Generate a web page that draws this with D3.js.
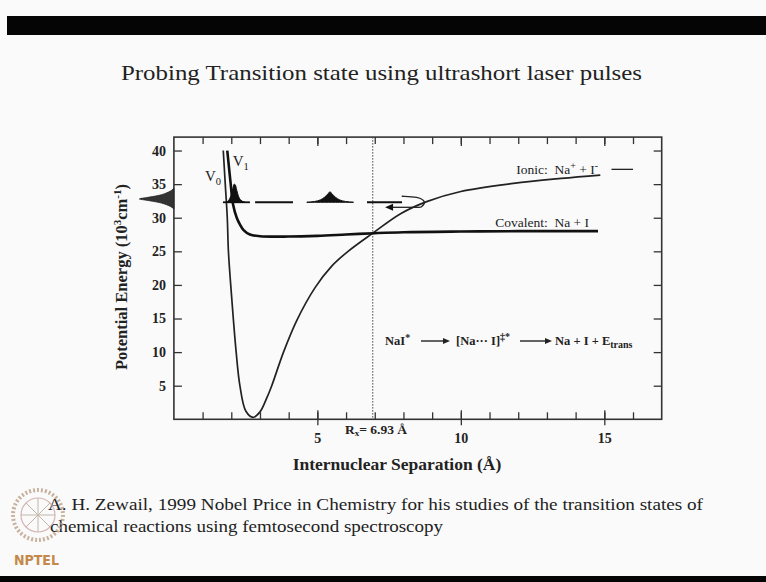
<!DOCTYPE html>
<html>
<head>
<meta charset="utf-8">
<title>Probing Transition state</title>
<script src="https://cdn.jsdelivr.net/npm/d3@7/dist/d3.min.js"></script>
<style>
  body { margin: 0; background: #fafafa; }
  svg { display: block; }
  text { font-family: "Liberation Serif", "Times New Roman", serif; fill: #222; }
  .tick line { stroke: #333; stroke-width: 1.3; }
  .tick text { font-size: 14px; font-weight: bold; font-family: "Liberation Serif", serif; fill: #222; }
</style>
</head>
<body>
<svg width="766" height="582"></svg>
<script>
// ionic ground state V0 (deep well), R in Å, E in 10^3 cm-1
const ionicR = [1.72, 1.79, 1.86, 1.90, 1.98, 2.07, 2.17, 2.30, 2.51, 2.76, 3.00, 3.23, 3.41, 3.82, 4.28, 4.92, 5.50, 6.07, 6.93, 7.90, 8.81, 10.0, 11.83, 13.5, 14.86];
const ionicE = [40, 35, 30, 25, 20, 15, 10, 5, 1.2, 0.3, 1.1, 3.1, 5, 10, 14.7, 19.6, 22.8, 25.0, 27.7, 30.6, 32.4, 33.9, 35.1, 35.85, 36.35];

// covalent excited state V1
const covR = [1.86, 1.98, 2.06, 2.19, 2.30, 2.42, 2.65, 3.0, 4.0, 5.0, 6.0, 7.0, 8.0, 10.0, 12.0, 14.78];
const covE = [40, 35, 32, 30, 29, 28.2, 27.5, 27.25, 27.2, 27.3, 27.5, 27.7, 27.85, 27.95, 28.0, 28.0];

const xMinor = d3.range(1, 17);
const xMajor = [5, 10, 15];
const yTicks = [5, 10, 15, 20, 25, 30, 35, 40];
const Rx = 6.93;

// probe (dashed) level and its segments
const probeE = 32.3;
const probeSegs = [[1.71, 2.65], [2.83, 4.15], [6.73, 7.95]];

// wave packets: [R, height above probe level]
const packet1R = [1.82, 1.92, 1.99, 2.05, 2.10, 2.14, 2.19, 2.26, 2.34, 2.48];
const packet1H = [0, 0.35, 1.0, 2.0, 2.7, 2.6, 1.8, 0.8, 0.3, 0];
const packet2R = [4.63, 4.9, 5.1, 5.25, 5.38, 5.44, 5.50, 5.63, 5.78, 5.98, 6.26];
const packet2H = [0, 0.12, 0.35, 0.75, 1.3, 1.57, 1.3, 0.75, 0.35, 0.12, 0];

// pump spectrum on the energy axis: [E, amplitude in Å units]
const pumpE = [31.3, 31.8, 32.3, 32.6, 32.8, 33.0, 33.3, 33.8, 34.4];
const pumpA = [0, 0.18, 0.55, 0.95, 1.2, 0.95, 0.55, 0.2, 0];

// turning-point hook and return arrow
const hookR = [7.94, 8.5, 8.82, 8.6];
const hookE = [33.2, 33.15, 32.3, 31.55];
const arrowR = [8.6, 7.36];

const svg = d3.select("svg");
const W = 766, H = 582;

svg.append("rect").attr("width", W).attr("height", H).attr("fill", "#fafafa");
svg.append("rect").attr("x", 7).attr("y", 16).attr("width", W - 7).attr("height", 19).attr("fill", "#050505");
svg.append("rect").attr("x", 0).attr("y", 576).attr("width", W).attr("height", 6).attr("fill", "#050505");

svg.append("text").attr("x", 121).attr("y", 80)
  .attr("font-size", 22).attr("textLength", 521).attr("lengthAdjust", "spacingAndGlyphs")
  .text("Probing Transition state using ultrashort laser pulses");

const pLeft = 173.9, pRight = 661.7, pTop = 137.1, pBottom = 419.3;
const x = d3.scaleLinear().domain([0, 17]).range([pLeft, pRight]);
const y = d3.scaleLinear().domain([0, 42]).range([pBottom, pTop]);

const g = svg.append("g");

// frame
g.append("rect").attr("x", pLeft).attr("y", pTop).attr("width", pRight - pLeft).attr("height", pBottom - pTop)
  .attr("fill", "none").attr("stroke", "#333").attr("stroke-width", 1.6);

function bare(sel) { sel.select(".domain").remove(); }

// bottom axis
g.append("g").attr("transform", `translate(0,${pBottom})`)
  .call(d3.axisTop(x).tickValues(xMinor).tickSize(7).tickFormat("")).call(bare);
g.append("g").attr("transform", `translate(0,${pBottom})`)
  .call(d3.axisTop(x).tickValues(xMajor).tickSize(9).tickFormat("")).call(bare);
g.append("g").attr("transform", `translate(0,${pBottom})`)
  .call(d3.axisBottom(x).tickValues(xMajor).tickSize(6).tickPadding(8)).call(bare);
// top axis
g.append("g").attr("transform", `translate(0,${pTop})`)
  .call(d3.axisBottom(x).tickValues(xMinor).tickSize(7).tickFormat("")).call(bare);
g.append("g").attr("transform", `translate(0,${pTop})`)
  .call(d3.axisBottom(x).tickValues(xMajor).tickSize(9).tickFormat("")).call(bare);
// left axis
g.append("g").attr("transform", `translate(${pLeft},0)`)
  .call(d3.axisRight(y).tickValues(yTicks).tickSize(8).tickFormat("")).call(bare);
g.append("g").attr("transform", `translate(${pLeft},0)`)
  .call(d3.axisLeft(y).tickValues(yTicks).tickSize(0).tickPadding(8)).call(bare);
// right axis
g.append("g").attr("transform", `translate(${pRight},0)`)
  .call(d3.axisLeft(y).tickValues(yTicks).tickSize(8).tickFormat("")).call(bare);

// crossing line
g.append("line").attr("x1", x(Rx)).attr("x2", x(Rx)).attr("y1", pTop).attr("y2", pBottom)
  .attr("stroke", "#444").attr("stroke-width", 1).attr("stroke-dasharray", "1.5,1.5");

const line = d3.line().x(d => x(d[0])).y(d => y(d[1])).curve(d3.curveCatmullRom.alpha(0.5));

g.append("path").attr("d", line(d3.zip(ionicR, ionicE)))
  .attr("fill", "none").attr("stroke", "#222").attr("stroke-width", 1.7);
g.append("path").attr("d", line(d3.zip(covR, covE)))
  .attr("fill", "none").attr("stroke", "#111").attr("stroke-width", 2.6);

// probe dashes
probeSegs.forEach(s => {
  g.append("line").attr("x1", x(s[0])).attr("x2", x(s[1])).attr("y1", y(probeE)).attr("y2", y(probeE))
    .attr("stroke", "#111").attr("stroke-width", 1.8);
});

// wave packets
const area = d3.area().x(d => x(d[0])).y0(y(probeE)).y1(d => y(probeE + d[1])).curve(d3.curveMonotoneX);
g.append("path").attr("d", area(d3.zip(packet1R, packet1H))).attr("fill", "#111").attr("stroke", "#111").attr("stroke-width", 1);
g.append("path").attr("d", area(d3.zip(packet2R, packet2H))).attr("fill", "#111").attr("stroke", "#111").attr("stroke-width", 1);

// pump spectrum
const pumpArea = d3.area().y(d => y(d[0])).x0(x(0)).x1(d => x(-d[1])).curve(d3.curveMonotoneY);
g.append("path").attr("d", pumpArea(d3.zip(pumpE, pumpA))).attr("fill", "#333").attr("stroke", "#222").attr("stroke-width", 0.8);

// hook + arrow
const hookLine = d3.line().x(d => x(d[0])).y(d => y(d[1])).curve(d3.curveBasis);
g.append("path").attr("d", hookLine(d3.zip(hookR, hookE))).attr("fill", "none").attr("stroke", "#222").attr("stroke-width", 1.3);
g.append("line").attr("x1", x(arrowR[0])).attr("x2", x(arrowR[1]) + 6).attr("y1", y(31.55)).attr("y2", y(31.55))
  .attr("stroke", "#222").attr("stroke-width", 1.3);
const ax = x(arrowR[1]), ay = y(31.55);
g.append("path").attr("d", `M${ax},${ay} l8,-3.5 l0,7 z`).attr("fill", "#111");

// state labels
function sub(t, main, s, fs) {
  t.append("tspan").text(main);
  t.append("tspan").attr("font-size", fs * 0.7).attr("dy", 4).text(s);
}
sub(g.append("text").attr("x", x(1.08)).attr("y", y(35.5)).attr("font-size", 15), "V", "0", 15);
sub(g.append("text").attr("x", x(2.05)).attr("y", y(37.7)).attr("font-size", 15), "V", "1", 15);

const ion = g.append("text").attr("x", x(11.93)).attr("y", y(36.5)).attr("font-size", 13.5);
ion.append("tspan").text("Ionic:\u00a0\u00a0Na");
ion.append("tspan").attr("font-size", 10).attr("dy", -5).text("+");
ion.append("tspan").attr("dy", 5).text(" + I");
ion.append("tspan").attr("font-size", 10).attr("dy", -5).text("-");
g.append("line").attr("x1", x(15.25)).attr("x2", x(16.0)).attr("y1", y(37.2)).attr("y2", y(37.2))
  .attr("stroke", "#222").attr("stroke-width", 1.3);

g.append("text").attr("x", x(11.2)).attr("y", y(28.6)).attr("font-size", 13.5).text("Covalent:\u00a0\u00a0Na + I");

// reaction scheme
const rx = svg.append("g").attr("font-weight", "bold");
const r1 = rx.append("text").attr("x", 385).attr("y", 345).attr("font-size", 12.5).attr("font-weight", "bold");
r1.append("tspan").text("NaI");
r1.append("tspan").attr("font-size", 10).attr("dy", -4).text("*");
const r2 = rx.append("text").attr("x", 456).attr("y", 345).attr("font-size", 12.5).attr("font-weight", "bold");
r2.append("tspan").text("[Na\u00b7\u00b7\u00b7 I]");
r2.append("tspan").attr("font-size", 10).attr("dy", -5).text("\u2021*");
const r3 = rx.append("text").attr("x", 555).attr("y", 345).attr("font-size", 12.5).attr("font-weight", "bold");
r3.append("tspan").text("Na + I + E");
r3.append("tspan").attr("font-size", 10).attr("dy", 3).text("trans");
[[421, 450], [520, 552]].forEach(a => {
  rx.append("line").attr("x1", a[0]).attr("x2", a[1] - 5).attr("y1", 341).attr("y2", 341).attr("stroke", "#222").attr("stroke-width", 1.4);
  rx.append("path").attr("d", `M${a[1]},341 l-7,-3 l0,6 z`).attr("fill", "#222");
});

// Rx label
const rl = svg.append("text").attr("x", 345).attr("y", 434).attr("font-size", 13.5).attr("font-weight", "bold");
rl.append("tspan").text("R");
rl.append("tspan").attr("font-size", 9).attr("dy", 2).text("x");
rl.append("tspan").attr("dy", -2).text("= 6.93 \u00c5");

// axis titles
svg.append("text").attr("x", 397).attr("y", 470).attr("text-anchor", "middle")
  .attr("font-size", 17.5).attr("font-weight", "bold").text("Internuclear Separation (\u00c5)");
const yt = svg.append("text").attr("transform", "translate(127,277) rotate(-90)").attr("text-anchor", "middle")
  .attr("font-size", 16.5).attr("font-weight", "bold");
yt.append("tspan").text("Potential Energy (10");
yt.append("tspan").attr("font-size", 11).attr("dy", -6).text("3");
yt.append("tspan").attr("dy", 6).text("cm");
yt.append("tspan").attr("font-size", 11).attr("dy", -6).text("-1");
yt.append("tspan").attr("dy", 6).text(")");

// footnote
svg.append("text").attr("x", 48).attr("y", 510).attr("font-size", 17).attr("textLength", 655).attr("lengthAdjust", "spacingAndGlyphs")
  .text("A. H. Zewail, 1999 Nobel Price in Chemistry for his studies of the transition states of");
svg.append("text").attr("x", 50).attr("y", 532).attr("font-size", 17).attr("textLength", 393).attr("lengthAdjust", "spacingAndGlyphs")
  .text("chemical reactions using femtosecond spectroscopy");

// NPTEL logo
const logo = svg.append("g").attr("opacity", 0.75);
logo.append("circle").attr("cx", 38).attr("cy", 515).attr("r", 25).attr("fill", "none")
  .attr("stroke", "#b89a80").attr("stroke-width", 4).attr("stroke-dasharray", "2,2");
logo.append("circle").attr("cx", 38).attr("cy", 515).attr("r", 17).attr("fill", "none")
  .attr("stroke", "#c9a0a0").attr("stroke-width", 1.2);
d3.range(0, 360, 45).forEach(a => {
  const t = a * Math.PI / 180;
  logo.append("line").attr("x1", 38).attr("y1", 515).attr("x2", 38 + 17 * Math.cos(t)).attr("y2", 515 + 17 * Math.sin(t))
    .attr("stroke", "#b0a090").attr("stroke-width", 1);
});
svg.append("text").attr("x", 14).attr("y", 565).attr("font-size", 14).attr("font-weight", "bold")
  .style("font-family", "'Liberation Sans Narrow', 'DejaVu Sans Condensed', sans-serif")
  .style("fill", "#c4894a").text("NPTEL");
</script>
</body>
</html>
